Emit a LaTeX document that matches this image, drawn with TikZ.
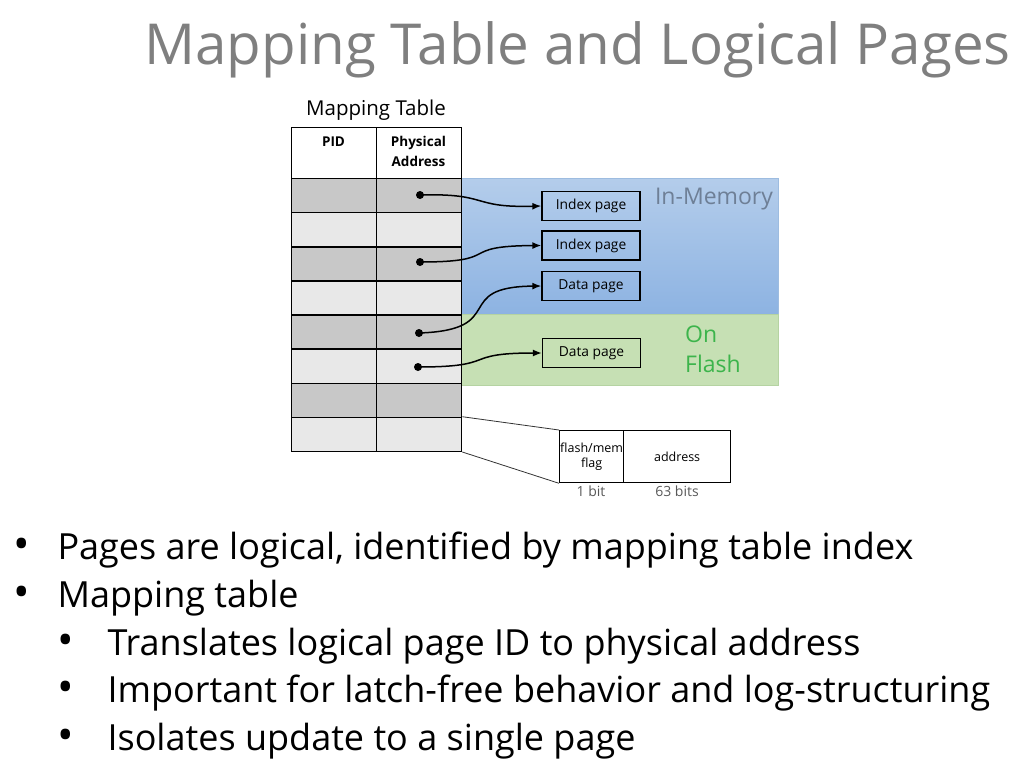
\documentclass[tikz,border=0pt]{standalone}
\usepackage{fontspec}
\setmainfont{Open Sans}
\usetikzlibrary{arrows.meta}
\definecolor{titlegray}{HTML}{7F7F7F}
\definecolor{darkcell}{HTML}{C8C8C8}
\definecolor{lightcell}{HTML}{E8E8E8}
\definecolor{bluetop}{HTML}{B4CDEB}
\definecolor{bluebot}{HTML}{8DB3E2}
\definecolor{blueedge}{HTML}{9DBCE0}
\definecolor{greenfill}{HTML}{C6E0B4}
\definecolor{greenedge}{HTML}{B5D3A2}
\definecolor{greentext}{HTML}{3CB44B}
\definecolor{memtext}{HTML}{6E7F96}
\definecolor{bitgray}{HTML}{595959}
\begin{document}
\begin{tikzpicture}[x=1pt,y=-1pt,
  cell/.style={draw=black, line width=1.3pt, minimum width=85pt, minimum height=34pt, inner sep=0pt, anchor=north west},
  pagebox/.style={draw=black, line width=1.3pt, minimum width=98pt, minimum height=29pt, inner sep=0pt, font=\fontsize{13.8}{15}\selectfont},
  dot/.style={circle, fill=black, minimum size=8pt, inner sep=0pt},
  link/.style={line width=1.5pt, -{Latex[length=9pt,width=7pt]}},
  zoomline/.style={line width=0.8pt, draw=black!80}
]
\useasboundingbox (0,0) rectangle (1024,768);
% title
\node[anchor=west, text=titlegray, font=\fontsize{56.5}{60}\selectfont] (title) at (141,50) {Mapping Table and Logical Pages};
% regions
\shade[top color=bluetop, bottom color=bluebot, draw=blueedge] (461,178) rectangle (778,314);
\fill[greenfill, draw=greenedge] (461,314) rectangle (778,385);
\node[text=memtext, font=\fontsize{23}{26}\selectfont] (mem) at (714,199) {In-Memory};
\node[text=greentext, font=\fontsize{23}{30}\selectfont, align=left] (flash) at (713,349) {On\\Flash};
% table
\node[font=\fontsize{20.5}{22}\selectfont] (mt) at (376,110) {Mapping Table};
\node[cell, minimum height=51pt, fill=white] (h1) at (291,127) {};
\node[cell, minimum height=51pt, fill=white] (h2) at (376,127) {};
\node[font=\bfseries\fontsize{13.5}{20}\selectfont, anchor=north] (pid) at (333.5,133) {PID};
\node[font=\bfseries\fontsize{13.5}{20}\selectfont, anchor=north, align=center] (pa) at (418.5,133) {Physical\\Address};
\foreach \i/\c in {1/darkcell,2/lightcell,3/darkcell,4/lightcell,5/darkcell,6/lightcell,7/darkcell,8/lightcell}{
  \node[cell, fill=\c] (a\i) at (291,{178+34.1*(\i-1)}) {};
  \node[cell, fill=\c] (b\i) at (376,{178+34.1*(\i-1)}) {};
}
% pages
\node[pagebox] (p1) at (591,206) {Index page};
\node[pagebox] (p2) at (591,245.5) {Index page};
\node[pagebox] (p3) at (591,286) {Data page};
\node[pagebox] (p4) at (591.5,353) {Data page};
% dots
\node[dot] (d1) at (420,195) {};
\node[dot] (d2) at (420,262) {};
\node[dot] (d3) at (419,333) {};
\node[dot] (d4) at (418,367) {};
\draw[link] (d1.center) .. controls (490,193) and (470,208) .. (p1.west);
\draw[link] (d2.center) .. controls (505,262) and (455,246) .. (p2.west);
\draw[link] (d3.center) .. controls (510,330) and (450,287) .. (p3.west);
\draw[link] (d4.center) .. controls (500,367) and (460,353) .. (p4.west);
% flag box
\node[draw=black, line width=1.3pt, minimum width=64pt, minimum height=52pt, inner sep=0pt, anchor=north west, align=center, font=\fontsize{12.5}{15}\selectfont] (flag) at (559,430) {flash/mem\\flag};
\node[draw=black, line width=1.3pt, minimum width=107pt, minimum height=52pt, inner sep=0pt, anchor=north west, font=\fontsize{12.5}{15}\selectfont] (addr) at (623,430) {address};
\node[text=bitgray, font=\fontsize{14}{16}\selectfont] (b1) at (591,491) {1 bit};
\node[text=bitgray, font=\fontsize{14}{16}\selectfont] (b63) at (677,491) {63 bits};
\draw[zoomline] (b8.north east) -- (flag.north west);
\draw[zoomline] (b8.south east) -- (flag.south west);
% bullets
\tikzset{btext/.style={anchor=west, font=\fontsize{36}{40}\selectfont},
         bmark/.style={anchor=center, font=\fontsize{44}{40}\selectfont}}
\node[bmark] (m1) at (22,549) {•};
\node[btext] (t1) at (54,550) {Pages are logical, identified by mapping table index};
\node[bmark] (m2) at (22,597) {•};
\node[btext] (t2) at (54,598) {Mapping table};
\node[bmark] (m3) at (66,645) {•};
\node[btext] (t3) at (104,646) {Translates logical page ID to physical address};
\node[bmark] (m4) at (66,692) {•};
\node[btext] (t4) at (104,693) {Important for latch-free behavior and log-structuring};
\node[bmark] (m5) at (66,740) {•};
\node[btext] (t5) at (104,741) {Isolates update to a single page};
\end{tikzpicture}
\end{document}
